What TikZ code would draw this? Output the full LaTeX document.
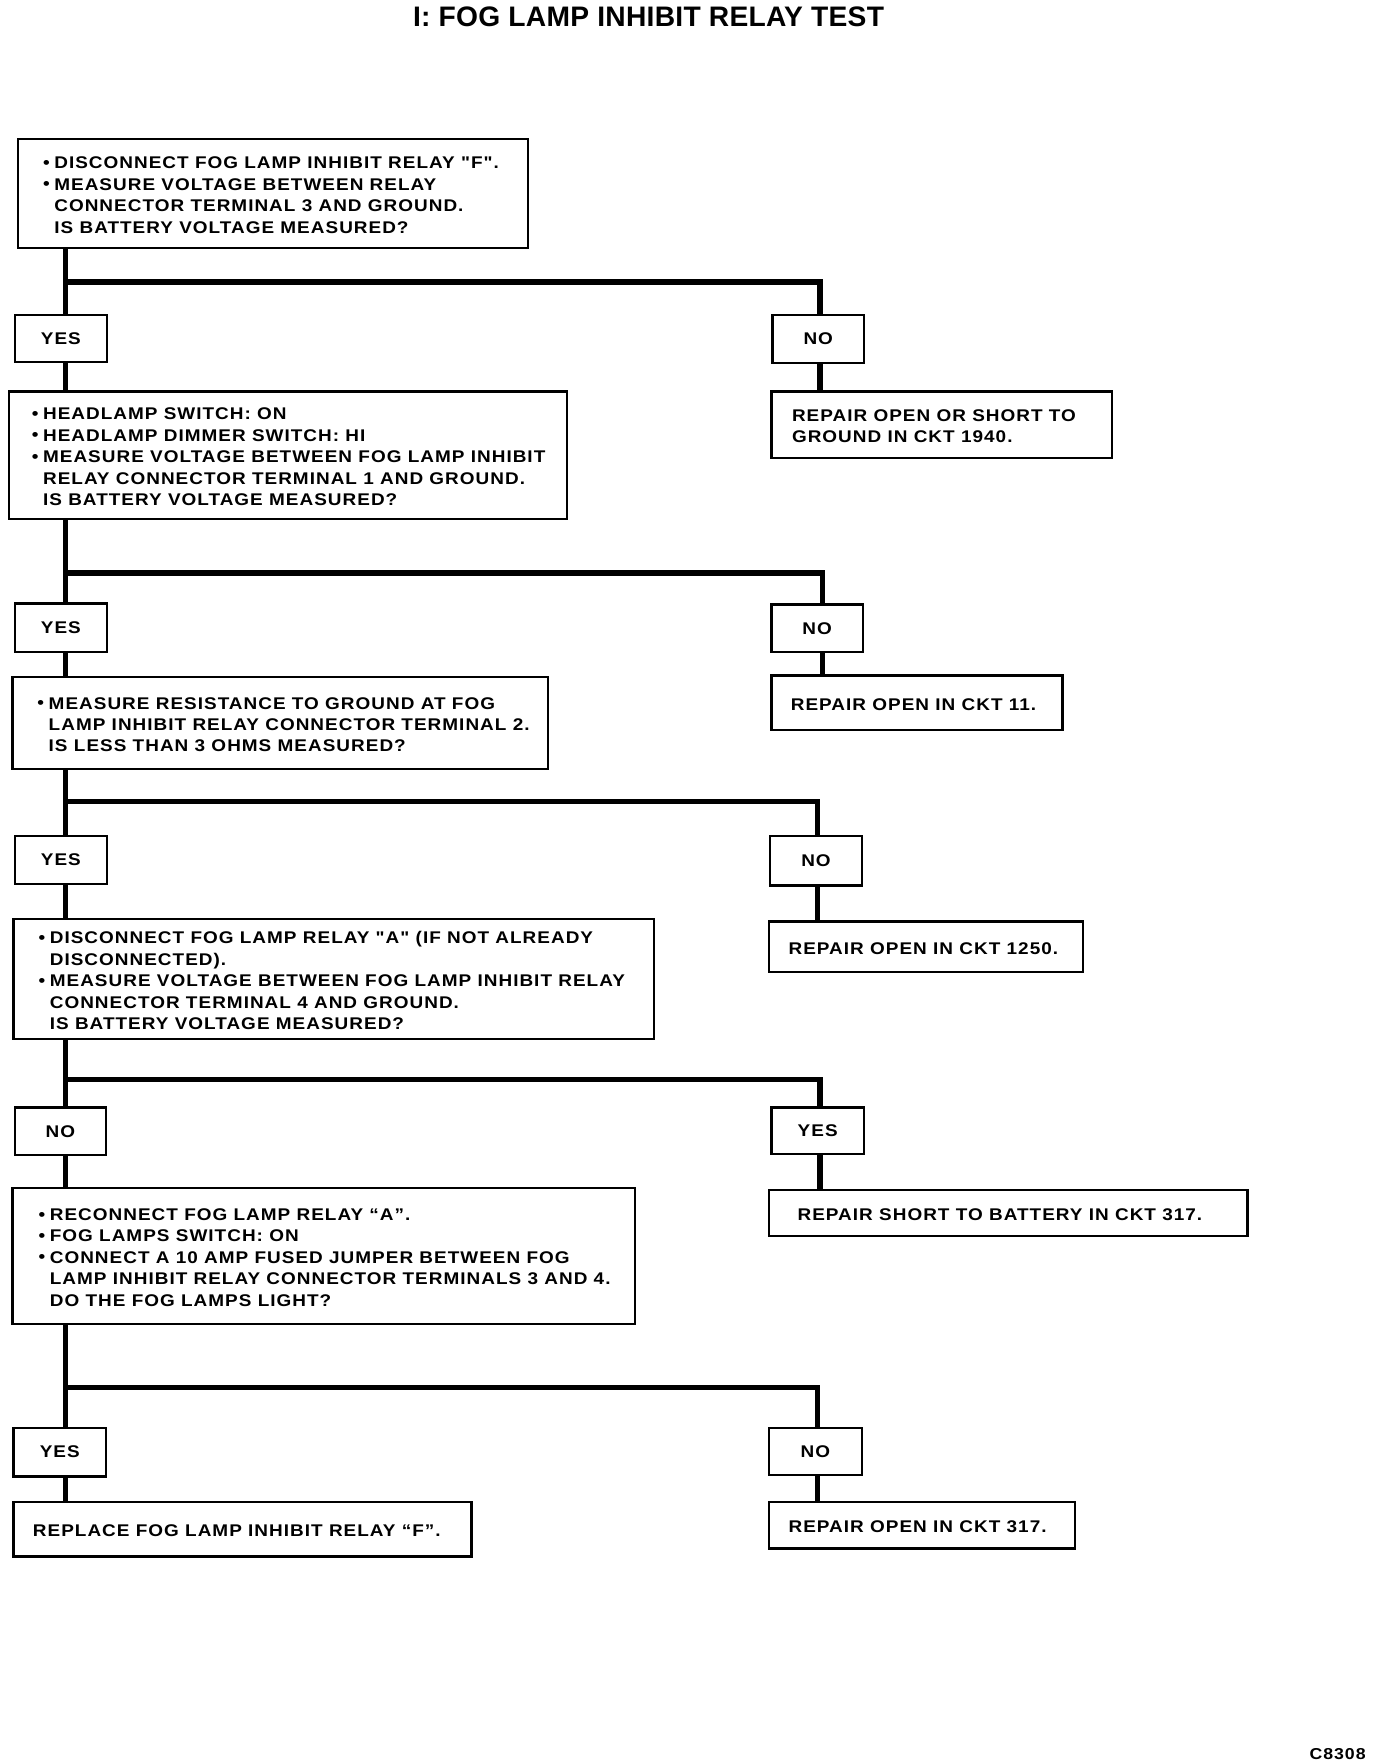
\documentclass[tikz,border=0pt]{standalone}
\usepackage{fontspec}
\setmainfont{Liberation Sans}[Ligatures=TeXOff, FakeStretch=1.12, LetterSpace=6]
\newfontfamily\titlefont{Liberation Sans}[Ligatures=TeXOff, LetterSpace=1]
\usetikzlibrary{calc}
\newcommand{\bul}{\makebox[9pt][l]{\hspace*{-1pt}\raisebox{0.05ex}{\fontsize{15}{15}\selectfont\textbullet}}}
\newcommand{\ind}{\hspace*{9pt}}
\begin{document}
\begin{tikzpicture}[x=1pt,y=-1pt,
  box/.style={draw, line width=2pt, inner sep=0pt, fill=white},
  lbl/.style={font=\fontsize{15}{19}\selectfont\bfseries, anchor=west, align=left, inner sep=0pt, yshift=-1.5pt},
  ans/.style={box, font=\fontsize{15}{19}\selectfont\bfseries},
  conn/.style={line width=4.5pt, line join=miter}]
\useasboundingbox (0,0) rectangle (1220,1564);
\node[font=\titlefont\fontsize{25}{25}\selectfont\bfseries] (title) at (575,15) {I: FOG LAMP INHIBIT RELAY TEST};
% level 1
\node[box, minimum width=452pt, minimum height=97pt] (b1) at (242,171.5) {};
\node[lbl] (b1t) at ([xshift=24pt]b1.west) {\bul DISCONNECT FOG LAMP INHIBIT RELAY "F".\\
\bul MEASURE VOLTAGE BETWEEN RELAY\\
\ind CONNECTOR TERMINAL 3 AND GROUND.\\
\ind IS BATTERY VOLTAGE MEASURED?};
\node[ans, minimum width=82pt, minimum height=42pt] (y1) at (54,300) {YES};
\node[ans, minimum width=81pt, minimum height=43pt] (n1) at (725.5,300.5) {NO};
\node[box, minimum width=495pt, minimum height=113pt] (b2) at (255.5,403.5) {};
\node[lbl] (b2t) at ([xshift=22pt]b2.west) {\bul HEADLAMP SWITCH: ON\\
\bul HEADLAMP DIMMER SWITCH: HI\\
\bul MEASURE VOLTAGE BETWEEN FOG LAMP INHIBIT\\
\ind RELAY CONNECTOR TERMINAL 1 AND GROUND.\\
\ind IS BATTERY VOLTAGE MEASURED?};
\node[box, minimum width=302pt, minimum height=59pt] (rp1) at (835,376.5) {};
\node[lbl] (rp1t) at ([xshift=19pt]rp1.west) {REPAIR OPEN OR SHORT TO\\GROUND IN CKT 1940.};
% level 2
\node[ans, minimum width=82pt, minimum height=43pt] (y2) at (54,556.5) {YES};
\node[ans, minimum width=81pt, minimum height=42pt] (n2) at (724.5,557) {NO};
\node[box, minimum width=475pt, minimum height=82pt] (b3) at (248.5,641) {};
\node[lbl] (b3t) at ([xshift=24pt]b3.west) {\bul MEASURE RESISTANCE TO GROUND AT FOG\\
\ind LAMP INHIBIT RELAY CONNECTOR TERMINAL 2.\\
\ind IS LESS THAN 3 OHMS MEASURED?};
\node[box, minimum width=258pt, minimum height=48pt] (rp2) at (813,623) {};
\node[lbl] (rp2t) at ([xshift=18pt]rp2.west) {REPAIR OPEN IN CKT 11.};
% level 3
\node[ans, minimum width=82pt, minimum height=43pt] (y3) at (54,762.5) {YES};
\node[ans, minimum width=81pt, minimum height=44pt] (n3) at (723.5,763) {NO};
\node[box, minimum width=568pt, minimum height=106pt] (b4) at (296,868) {};
\node[lbl] (b4t) at ([xshift=24pt]b4.west) {\bul DISCONNECT FOG LAMP RELAY "A" (IF NOT ALREADY\\
\ind DISCONNECTED).\\
\bul MEASURE VOLTAGE BETWEEN FOG LAMP INHIBIT RELAY\\
\ind CONNECTOR TERMINAL 4 AND GROUND.\\
\ind IS BATTERY VOLTAGE MEASURED?};
\node[box, minimum width=278pt, minimum height=45pt] (rp3) at (821,839.5) {};
\node[lbl] (rp3t) at ([xshift=18pt]rp3.west) {REPAIR OPEN IN CKT 1250.};
% level 4
\node[ans, minimum width=81pt, minimum height=42pt] (n4) at (53.5,1003) {NO};
\node[ans, minimum width=82pt, minimum height=41pt] (y4) at (725,1002.5) {YES};
\node[box, minimum width=552pt, minimum height=121pt] (b5) at (287,1113.5) {};
\node[lbl] (b5t) at ([xshift=25pt]b5.west) {\bul RECONNECT FOG LAMP RELAY “A”.\\
\bul FOG LAMPS SWITCH: ON\\
\bul CONNECT A 10 AMP FUSED JUMPER BETWEEN FOG\\
\ind LAMP INHIBIT RELAY CONNECTOR TERMINALS 3 AND 4.\\
\ind DO THE FOG LAMPS LIGHT?};
\node[box, minimum width=424pt, minimum height=41pt] (rp4) at (894,1075.5) {};
\node[lbl] (rp4t) at ([xshift=26pt]rp4.west) {REPAIR SHORT TO BATTERY IN CKT 317.};
% level 5
\node[ans, minimum width=82pt, minimum height=43pt] (y5) at (53,1287.5) {YES};
\node[ans, minimum width=82pt, minimum height=42pt] (n5) at (723,1287) {NO};
\node[box, minimum width=406pt, minimum height=48pt] (rl) at (215,1356) {};
\node[lbl] (rlt) at ([xshift=18pt]rl.west) {REPLACE FOG LAMP INHIBIT RELAY “F”.};
\node[box, minimum width=271pt, minimum height=41pt] (rp5) at (817.5,1352.5) {};
\node[lbl] (rp5t) at ([xshift=18pt]rp5.west) {REPAIR OPEN IN CKT 317.};
\node[font=\fontsize{14}{14}\selectfont\bfseries] (code) at (1186,1555) {C8308};
% connectors
\coordinate (j1) at (58,250); \coordinate (k1) at (727,250);
\draw[conn] (j1 |- b1.south) -- (j1 |- y1.north);
\draw[conn] (j1) -- (k1) -- (k1 |- n1.north);
\draw[conn] (j1 |- y1.south) -- (j1 |- b2.north);
\draw[conn] (k1 |- n1.south) -- (k1 |- rp1.north);
\coordinate (j2) at (58,508); \coordinate (k2) at (729,508);
\draw[conn] (j2 |- b2.south) -- (j2 |- y2.north);
\draw[conn] (j2) -- (k2) -- (k2 |- n2.north);
\draw[conn] (j2 |- y2.south) -- (j2 |- b3.north);
\draw[conn] (k2 |- n2.south) -- (k2 |- rp2.north);
\coordinate (j3) at (58,711); \coordinate (k3) at (725,711);
\draw[conn] (j3 |- b3.south) -- (j3 |- y3.north);
\draw[conn] (j3) -- (k3) -- (k3 |- n3.north);
\draw[conn] (j3 |- y3.south) -- (j3 |- b4.north);
\draw[conn] (k3 |- n3.south) -- (k3 |- rp3.north);
\coordinate (j4) at (58,957); \coordinate (k4) at (727,957);
\draw[conn] (j4 |- b4.south) -- (j4 |- n4.north);
\draw[conn] (j4) -- (k4) -- (k4 |- y4.north);
\draw[conn] (j4 |- n4.south) -- (j4 |- b5.north);
\draw[conn] (k4 |- y4.south) -- (k4 |- rp4.north);
\coordinate (j5) at (58,1230); \coordinate (k5) at (725,1230);
\draw[conn] (j5 |- b5.south) -- (j5 |- y5.north);
\draw[conn] (j5) -- (k5) -- (k5 |- n5.north);
\draw[conn] (j5 |- y5.south) -- (j5 |- rl.north);
\draw[conn] (k5 |- n5.south) -- (k5 |- rp5.north);
\end{tikzpicture}
\end{document}
